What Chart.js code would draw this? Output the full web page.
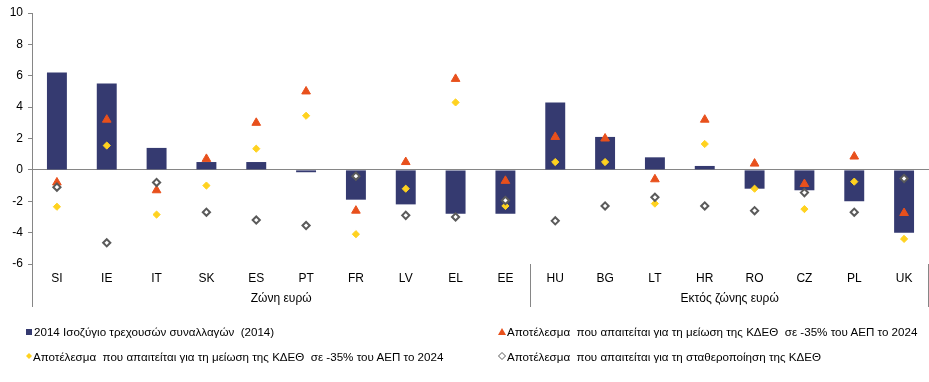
<!DOCTYPE html>
<html><head><meta charset="utf-8">
<script src="https://cdn.jsdelivr.net/npm/chart.js@4/dist/chart.umd.min.js"></script>
<style>
html,body{margin:0;padding:0;background:#fff;}
#wrap{position:relative;width:929px;height:382px;overflow:hidden;}
#c{position:absolute;left:0;top:0;}
.lt{position:absolute;font-family:"Liberation Sans",Arial,sans-serif;font-size:11.6px;color:#000;white-space:pre;line-height:14px;}
.lm{position:absolute;}
</style></head>
<body><div id="wrap"><canvas id="c" width="929" height="382"></canvas>
<div id="legend"></div></div>
<script>
const categories = ['SI','IE','IT','SK','ES','PT','FR','LV','EL','EE','HU','BG','LT','HR','RO','CZ','PL','UK'];
const groupLabels = ['Ζώνη ευρώ','Εκτός ζώνης ευρώ'];
const groupStarts = [0,10];
const groupEnds = [9,17];
const currentAccount2014 = [6.2,5.5,1.4,0.5,0.5,-0.15,-1.9,-2.2,-2.8,-2.8,4.3,2.1,0.8,0.25,-1.2,-1.3,-2.0,-4.0];
const requiredTriangle = [-0.8,3.2,-1.3,0.7,3.0,5.0,-2.6,0.5,5.8,-0.7,2.1,2.0,-0.6,3.2,0.4,-0.9,0.85,-2.75];
const requiredDiamond = [-2.35,1.55,-2.85,-1.0,1.35,3.45,-4.1,-1.2,4.3,-2.3,0.5,0.5,-2.15,1.65,-1.2,-2.5,-0.75,-4.4];
const requiredStabilise = [-1.1,-4.65,-0.8,-2.7,-3.2,-3.55,-0.4,-2.9,-3.0,-1.95,-3.25,-2.3,-1.75,-2.3,-2.6,-1.45,-2.7,-0.55];
const yMin = -6, yMax = 10, yStep = 2;
const seriesNames = ['2014 Ισοζύγιο τρεχουσών συναλλαγών  (2014)',
  'Αποτέλεσμα  που απαιτείται για τη μείωση της ΚΔΕΘ  σε -35% του ΑΕΠ το 2024',
  'Αποτέλεσμα  που απαιτείται για τη μείωση της ΚΔΕΘ  σε -35% του ΑΕΠ το 2024',
  'Αποτέλεσμα  που απαιτείται για τη σταθεροποίηση της ΚΔΕΘ'];

const NAVY='#353a70', ORANGE='#e8501c', YELLOW='#ffd21f', GREY='#5a5a5a', AXIS='#868686';
const FONT='"Liberation Sans", Arial, sans-serif';

const groupPlugin = {
  id:'groups',
  afterDraw(chart){
    const ctx=chart.ctx, x=chart.scales.x, y=chart.scales.y;
    const bottom=y.bottom;
    const half=(x.getPixelForValue(1)-x.getPixelForValue(0))/2;
    ctx.save();
    ctx.strokeStyle=AXIS; ctx.lineWidth=1;
    const bounds=[x.getPixelForValue(groupStarts[0])-half];
    groupEnds.forEach(e=>bounds.push(x.getPixelForValue(e)+half));
    bounds.forEach((b,i)=>{
      const px=Math.min(Math.round(b),chart.width-1)+0.5;
      ctx.beginPath(); ctx.moveTo(px,bottom); ctx.lineTo(px,bottom+43); ctx.stroke();
    });
    ctx.fillStyle='#000'; ctx.font='12px '+FONT; ctx.textAlign='center'; ctx.textBaseline='middle';
    groupLabels.forEach((g,i)=>{
      const cx=(x.getPixelForValue(groupStarts[i])+x.getPixelForValue(groupEnds[i]))/2;
      ctx.fillText(g,cx,bottom+35);
    });
    ctx.restore();
  }
};

new Chart(document.getElementById('c'),{
  data:{
    labels:categories,
    datasets:[
      {type:'line',label:seriesNames[3],data:requiredStabilise,showLine:false,pointStyle:'rectRot',pointRadius:3.6,pointBackgroundColor:'#fff',pointBorderColor:GREY,pointBorderWidth:2,order:1},
      {type:'line',label:seriesNames[1],data:requiredTriangle,showLine:false,pointStyle:'triangle',pointRadius:5,pointBackgroundColor:ORANGE,pointBorderColor:ORANGE,pointBorderWidth:1,order:2},
      {type:'line',label:seriesNames[2],data:requiredDiamond,showLine:false,pointStyle:'rectRot',pointRadius:3.6,pointBackgroundColor:YELLOW,pointBorderColor:YELLOW,pointBorderWidth:1,order:3},
      {type:'bar',label:seriesNames[0],data:currentAccount2014,backgroundColor:NAVY,barPercentage:0.4,categoryPercentage:1,order:4}
    ]
  },
  options:{
    responsive:false,animation:false,devicePixelRatio:1,
    layout:{autoPadding:false,padding:{top:13,right:0,left:0,bottom:0}},
    plugins:{legend:{display:false},tooltip:{enabled:false}},
    scales:{
      x:{
        grid:{display:false,drawTicks:false},
        border:{display:false},
        ticks:{color:'#000',font:{family:FONT,size:12,lineHeight:2.4},padding:0,maxRotation:0,autoSkip:false},
        afterFit(s){s.height=118;}
      },
      y:{
        min:yMin,max:yMax,
        ticks:{stepSize:yStep,color:'#000',font:{family:FONT,size:12},padding:5},
        grid:{drawTicks:true,tickLength:4,tickColor:AXIS,color:(c)=>c.tick&&c.tick.value===0?AXIS:'rgba(0,0,0,0)'},
        border:{display:true,color:AXIS},
        afterFit(s){s.width=32;}
      }
    }
  },
  plugins:[groupPlugin]
});

// HTML legend
const leg=document.getElementById('legend');
function add(html){leg.insertAdjacentHTML('beforeend',html);}
add(`<svg class="lm" style="left:26px;top:329px" width="6" height="6"><rect x="0" y="0" width="6" height="6" fill="${NAVY}"/></svg>`);
add(`<div class="lt" style="left:34px;top:325px">${seriesNames[0]}</div>`);
add(`<svg class="lm" style="left:498px;top:328px" width="8" height="7"><polygon points="4,0 8,7 0,7" fill="${ORANGE}"/></svg>`);
add(`<div class="lt" style="left:507px;top:325px">${seriesNames[1]}</div>`);
add(`<svg class="lm" style="left:26px;top:353px" width="6" height="6"><polygon points="3,0 6,3 3,6 0,3" fill="${YELLOW}"/></svg>`);
add(`<div class="lt" style="left:33px;top:350px">${seriesNames[2]}</div>`);
add(`<svg class="lm" style="left:498px;top:352px" width="8" height="8"><polygon points="4,0.5 7.5,4 4,7.5 0.5,4" fill="#fff" stroke="${GREY}" stroke-width="1"/></svg>`);
add(`<div class="lt" style="left:507px;top:350px">${seriesNames[3]}</div>`);
</script>
</body></html>
